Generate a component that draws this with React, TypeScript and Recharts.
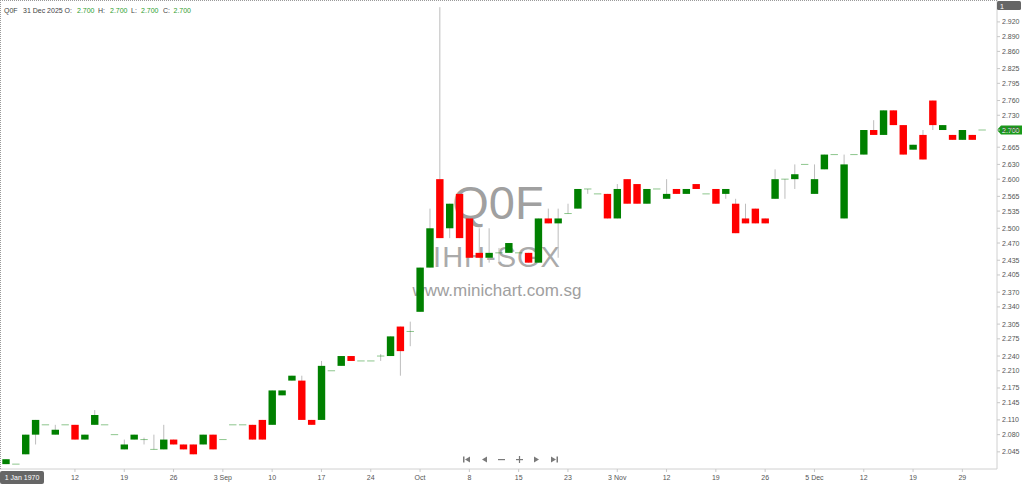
import React from 'react';
import { ComposedChart, Bar, XAxis, YAxis, ReferenceLine } from 'recharts';

const opens = [
  2.02, 2.02, 2.04, 2.08, 2.10, 2.08, 2.10, 2.10, 2.07, 2.10,
  2.10, 2.08, 2.05, 2.07, 2.07, 2.05, 2.05, 2.07, 2.06, 2.06,
  2.06, 2.08, 2.07, 2.10, 2.10, 2.10, 2.11, 2.10, 2.16, 2.19,
  2.19, 2.11, 2.11, 2.21, 2.22, 2.24, 2.23, 2.23, 2.24, 2.24,
  2.30, 2.29, 2.33, 2.42, 2.60, 2.50, 2.57, 2.52, 2.45, 2.44,
  2.45, 2.45, 2.45, 2.45, 2.43, 2.52, 2.51, 2.53, 2.54, 2.58,
  2.57, 2.57, 2.52, 2.60, 2.59, 2.55, 2.58, 2.56, 2.58, 2.57,
  2.59, 2.57, 2.58, 2.57, 2.55, 2.52, 2.54, 2.52, 2.56, 2.60,
  2.60, 2.63, 2.57, 2.62, 2.65, 2.52, 2.65, 2.65, 2.70, 2.69,
  2.74, 2.71, 2.66, 2.69, 2.76, 2.70, 2.69, 2.68, 2.69, 2.70,
];
const highs = [
  2.03, 2.02, 2.08, 2.11, 2.10, 2.10, 2.10, 2.10, 2.08, 2.13,
  2.10, 2.08, 2.07, 2.08, 2.074, 2.08, 2.10, 2.07, 2.06, 2.06,
  2.08, 2.08, 2.07, 2.10, 2.10, 2.10, 2.11, 2.17, 2.17, 2.20,
  2.20, 2.11, 2.23, 2.21, 2.24, 2.24, 2.23, 2.23, 2.244, 2.28,
  2.30, 2.31, 2.42, 2.54, 2.95, 2.55, 2.57, 2.52, 2.50, 2.50,
  2.46, 2.47, 2.45, 2.45, 2.52, 2.54, 2.54, 2.55, 2.58, 2.58,
  2.57, 2.57, 2.59, 2.60, 2.59, 2.58, 2.58, 2.60, 2.58, 2.58,
  2.59, 2.57, 2.58, 2.58, 2.56, 2.55, 2.54, 2.52, 2.62, 2.60,
  2.63, 2.63, 2.63, 2.65, 2.65, 2.65, 2.65, 2.70, 2.72, 2.74,
  2.74, 2.71, 2.67, 2.70, 2.76, 2.71, 2.69, 2.70, 2.69, 2.70,
];
const lows = [
  2.02, 2.02, 2.04, 2.06, 2.10, 2.08, 2.10, 2.07, 2.07, 2.10,
  2.10, 2.08, 2.05, 2.07, 2.06, 2.05, 2.05, 2.06, 2.05, 2.04,
  2.06, 2.05, 2.07, 2.10, 2.10, 2.07, 2.07, 2.10, 2.16, 2.19,
  2.11, 2.10, 2.11, 2.21, 2.22, 2.23, 2.23, 2.23, 2.23, 2.24,
  2.20, 2.26, 2.33, 2.42, 2.48, 2.48, 2.48, 2.44, 2.44, 2.43,
  2.43, 2.45, 2.45, 2.43, 2.43, 2.51, 2.44, 2.53, 2.54, 2.57,
  2.57, 2.52, 2.52, 2.55, 2.55, 2.55, 2.58, 2.56, 2.57, 2.57,
  2.58, 2.57, 2.55, 2.56, 2.49, 2.51, 2.51, 2.51, 2.56, 2.56,
  2.58, 2.63, 2.57, 2.62, 2.65, 2.52, 2.65, 2.65, 2.69, 2.69,
  2.71, 2.65, 2.66, 2.64, 2.70, 2.70, 2.68, 2.68, 2.68, 2.70,
];
const closes = [
  2.03, 2.02, 2.08, 2.11, 2.10, 2.09, 2.10, 2.07, 2.08, 2.12,
  2.10, 2.08, 2.06, 2.08, 2.07, 2.05, 2.07, 2.06, 2.05, 2.04,
  2.08, 2.05, 2.07, 2.10, 2.10, 2.07, 2.07, 2.17, 2.17, 2.20,
  2.11, 2.10, 2.22, 2.21, 2.24, 2.23, 2.23, 2.23, 2.24, 2.28,
  2.25, 2.29, 2.42, 2.50, 2.48, 2.55, 2.48, 2.44, 2.44, 2.45,
  2.45, 2.47, 2.45, 2.43, 2.52, 2.51, 2.52, 2.53, 2.58, 2.58,
  2.57, 2.52, 2.58, 2.55, 2.55, 2.58, 2.58, 2.57, 2.57, 2.58,
  2.58, 2.57, 2.55, 2.58, 2.49, 2.51, 2.51, 2.51, 2.60, 2.60,
  2.61, 2.63, 2.60, 2.65, 2.65, 2.63, 2.65, 2.70, 2.69, 2.74,
  2.71, 2.65, 2.67, 2.64, 2.71, 2.71, 2.68, 2.70, 2.68, 2.70,
];

const xTickIndex = [7, 12, 17, 22, 27, 32, 37, 42, 47, 52, 57, 62, 67, 72, 77, 82, 87, 92, 97];
const xTickLabels = ['12', '19', '26', '3 Sep', '10', '17', '24', 'Oct', '8', '15', '23', '3 Nov', '12', '19', '26', '5 Dec', '12', '19', '29'];
const yTicks = [
  2.045, 2.08, 2.11, 2.145, 2.175, 2.21, 2.24, 2.275, 2.305, 2.34, 2.37, 2.405, 2.435, 2.47,
  2.5, 2.535, 2.565, 2.6, 2.63, 2.665, 2.7, 2.73, 2.76, 2.795, 2.825, 2.86, 2.89, 2.92,
];

const symbol = 'Q0F';
const stockName = 'IHH-SGX';
const site = 'www.minichart.com.sg';
const lastDate = '31 Dec 2025';
const cursorDate = '1 Jan 1970';

const Y_MIN = 2.0101;
const Y_MAX = 2.9646;

const data = opens.map((o, i) => ({ i, o, h: highs[i], l: lows[i], c: closes[i] }));
const last = data[data.length - 1];

const FONT = '"Liberation Sans", Arial, sans-serif';
const UP = '#008000';
const DOWN = '#ff0000';

const Candle = (props: any) => {
  const { x, y, width, height, payload } = props;
  if (!payload || height == null || !isFinite(height)) return null;
  const { o, h, l, c } = payload;
  const k = height / (h - Y_MIN);
  const py = (v: number) => y + (h - v) * k;
  const cx = x + width / 2;
  const bw = 7.4;
  const top = py(Math.max(o, c));
  const bot = py(Math.min(o, c));
  const up = c > o;
  const doji = o === c;
  return (
    <g>
      {h > l && (
        <line x1={cx} x2={cx} y1={py(h)} y2={py(l)} stroke="#bdbdbd" strokeWidth={1} />
      )}
      {doji ? (
        <line x1={cx - bw / 2} x2={cx + bw / 2} y1={top} y2={top} stroke={UP} strokeOpacity={0.45} strokeWidth={1} />
      ) : (
        <rect x={cx - bw / 2} y={top} width={bw} height={bot - top} fill={up ? UP : DOWN} />
      )}
    </g>
  );
};

const XTick = (props: any) => {
  const { x, y, payload } = props;
  const idx = xTickIndex.indexOf(payload.value);
  if (idx < 0) return null;
  return (
    <g>
      <line x1={x} x2={x} y1={y - 6} y2={y - 3} stroke="#c8c8c8" />
      <text x={x} y={y} dy="0.71em" textAnchor="middle" fontSize={7} fill="#555" fontFamily={FONT}>
        {xTickLabels[idx]}
      </text>
    </g>
  );
};

const PriceTag = (props: any) => {
  const vb = props.viewBox || {};
  const x0 = (vb.x || 0) + (vb.width || 0);
  const y0 = vb.y || 0;
  return (
    <g>
      <path
        d={`M${x0} ${y0} L${x0 + 4} ${y0 - 4.5} L${x0 + 25} ${y0 - 4.5} L${x0 + 25} ${y0 + 4.5} L${x0 + 4} ${y0 + 4.5} Z`}
        fill="#1a9a1a"
      />
      <text x={x0 + 5} y={y0 + 2.5} fontSize={7} fill="#fff" fontFamily={FONT}>
        {last.c.toFixed(3)}
      </text>
    </g>
  );
};

export default function App() {
  const hdrGreen = '#2f9e2f';
  return (
    <div style={{ position: 'absolute', left: 0, top: 0, width: 1024, height: 484, background: '#fff', overflow: 'hidden' }}>
      <svg width={1024} height={484} style={{ position: 'absolute', left: 0, top: 0 }}>
        <text x={498} y={219} textAnchor="middle" fontSize={47} fill="#a0a0a0" fontFamily={FONT}>{symbol}</text>
        <text x={497} y={266.5} textAnchor="middle" fontSize={29} fill="#aaaaaa" fontFamily={FONT} letterSpacing={1}>{stockName}</text>
        <text x={497} y={296} textAnchor="middle" fontSize={17} fill="#a0a0a0" fontFamily={FONT}>{site}</text>
      </svg>
      <div style={{ position: 'absolute', left: 0, top: 0 }}>
        <ComposedChart width={1024} height={484} data={data} margin={{ top: 0, right: 0, bottom: 0, left: 0 }}>
          <XAxis
            dataKey="i"
            interval={0}
            tickLine={false}
            tickSize={3}
            tickMargin={3}
            height={15}
            padding={{ left: 1, right: 10 }}
            axisLine={{ stroke: '#d0d0d0' }}
            tick={<XTick />}
          />
          <YAxis
            orientation="right"
            width={27}
            domain={[Y_MIN, Y_MAX]}
            allowDataOverflow
            ticks={yTicks}
            interval={0}
            tickSize={3}
            tickMargin={2}
            axisLine={{ stroke: '#d0d0d0' }}
            tickLine={{ stroke: '#c8c8c8' }}
            tick={{ fontSize: 7, fill: '#555', fontFamily: FONT }}
            tickFormatter={(v: number) => v.toFixed(3)}
          />
          <Bar
            dataKey={(d: any) => [Y_MIN, d.h]}
            barSize={8}
            isAnimationActive={false}
            shape={(p: any) => <Candle {...p} />}
          />
          <ReferenceLine y={last.c} stroke="none" ifOverflow="visible" label={<PriceTag />} />
        </ComposedChart>
      </div>
      <svg width={1024} height={484} style={{ position: 'absolute', left: 0, top: 0, pointerEvents: 'none' }}>
        <line x1={0} x2={997} y1={0.5} y2={0.5} stroke="#9a9a9a" strokeDasharray="1 1" />
        <line x1={0.5} x2={0.5} y1={0} y2={469} stroke="#9a9a9a" strokeDasharray="1 1" />
        <g fontFamily={FONT} fontSize={7}>
          <text x={4} y={13} fill="#444">{symbol}</text>
          <text x={23} y={13} fill="#444">{lastDate}</text>
          <text x={64.5} y={13} fill="#444">O:</text>
          <text x={77} y={13} fill={hdrGreen}>{last.o.toFixed(3)}</text>
          <text x={98} y={13} fill="#444">H:</text>
          <text x={110} y={13} fill={hdrGreen}>{last.h.toFixed(3)}</text>
          <text x={131} y={13} fill="#444">L:</text>
          <text x={141} y={13} fill={hdrGreen}>{last.l.toFixed(3)}</text>
          <text x={163} y={13} fill="#444">C:</text>
          <text x={173.5} y={13} fill={hdrGreen}>{last.c.toFixed(3)}</text>
        </g>
        <rect x={997} y={1} width={24} height={9} rx={1.5} fill="#666" />
        <text x={1000} y={8.5} fontSize={7} fill="#fff" fontFamily={FONT}>1</text>
        <rect x={0} y={471} width={44} height={13} rx={2} fill="#666" />
        <text x={22} y={480} textAnchor="middle" fontSize={7} fill="#fff" fontFamily={FONT}>{cursorDate}</text>
        <g fill="#7a7a7a">
          <rect x={463} y={456.5} width={1.5} height={6} />
          <path d="M465 459.5 L470 456.5 L470 462.5 Z" />
          <path d="M482 459.5 L487 456.5 L487 462.5 Z" />
          <rect x={498} y={459} width={7} height={1.2} />
          <rect x={516} y={459} width={7} height={1.2} />
          <rect x={518.9} y={456} width={1.2} height={7} />
          <path d="M534 456.5 L534 462.5 L539 459.5 Z" />
          <path d="M551 456.5 L551 462.5 L556 459.5 Z" />
          <rect x={556.5} y={456.5} width={1.5} height={6} />
        </g>
      </svg>
    </div>
  );
}
